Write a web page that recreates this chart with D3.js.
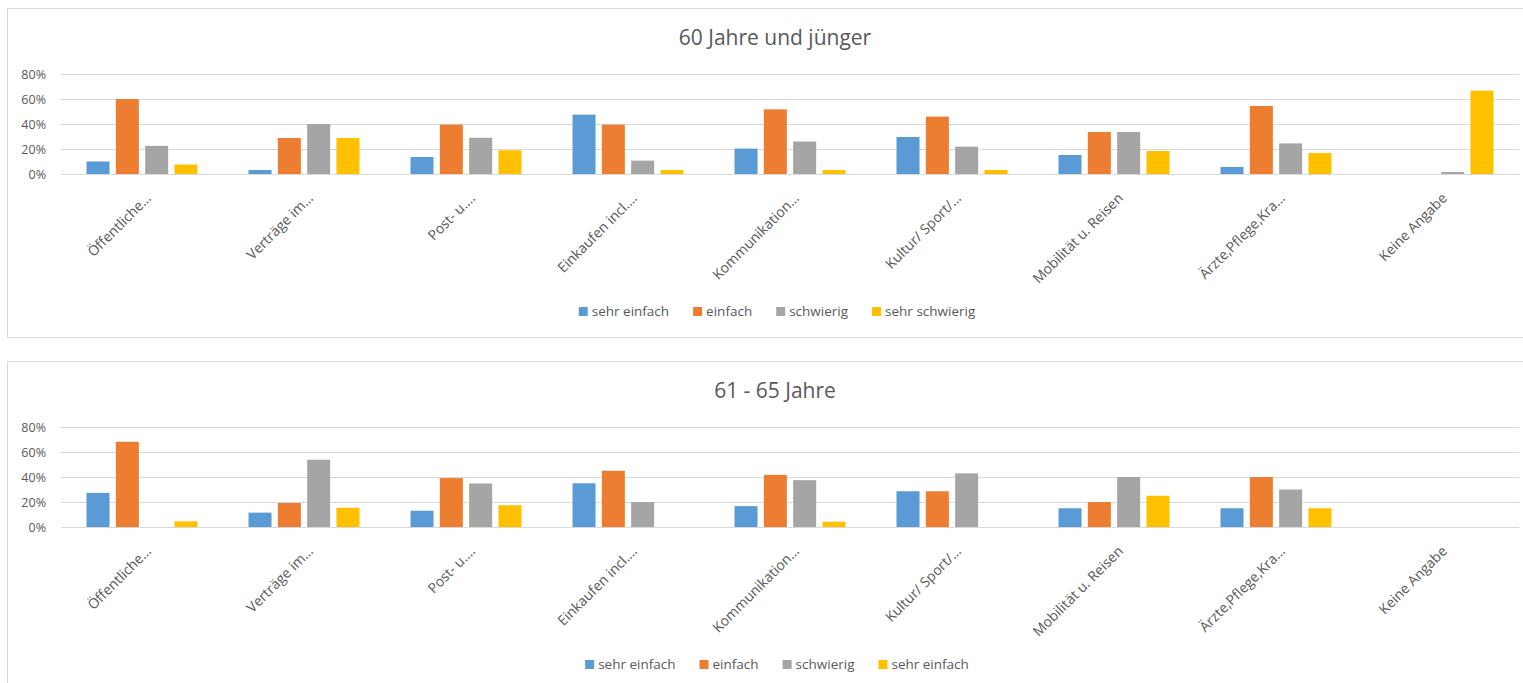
<!DOCTYPE html>
<html>
<head>
<meta charset="utf-8">
<script src="https://cdn.jsdelivr.net/npm/d3@7"></script>
<style>
  body { margin: 0; background: #fff; }
  svg { display: block; font-family: 'Open Sans', sans-serif; }
</style>
</head>
<body>
<svg id="chart" width="1523" height="683"></svg>
<script>
const categories = ['Öffentliche…', 'Verträge im…', 'Post- u.…', 'Einkaufen incl.…', 'Kommunikation…',
  'Kultur/ Sport/…', 'Mobilität u. Reisen', 'Ärzte,Pflege,Kra…', 'Keine Angabe']
const colors = ['#5B9BD5', '#ED7D31', '#A5A5A5', '#FFC000']

// 60 Jahre und jünger
const jungNames = ['sehr einfach', 'einfach', 'schwierig', 'sehr schwierig']
const jungSehrEinfach = [0.10, 0.032, 0.136, 0.475, 0.203, 0.296, 0.152, 0.056, 0]
const jungEinfach = [0.60, 0.288, 0.395, 0.395, 0.517, 0.459, 0.336, 0.544, 0]
const jungSchwierig = [0.225, 0.40, 0.29, 0.107, 0.26, 0.219, 0.336, 0.245, 0.016]
const jungSehrSchwierig = [0.075, 0.288, 0.19, 0.032, 0.032, 0.032, 0.184, 0.168, 0.667]

// 61 - 65 Jahre
const altNames = ['sehr einfach', 'einfach', 'schwierig', 'sehr einfach']
const altSehrEinfach = [0.273, 0.115, 0.13, 0.35, 0.167, 0.286, 0.15, 0.15, 0]
const altEinfach = [0.682, 0.192, 0.391, 0.45, 0.417, 0.286, 0.20, 0.40, 0]
const altSchwierig = [0, 0.538, 0.348, 0.20, 0.375, 0.429, 0.40, 0.30, 0]
const altSehrSchwierig = [0.045, 0.154, 0.174, 0, 0.042, 0, 0.25, 0.15, 0]

const yTicks = [0, 0.2, 0.4, 0.6, 0.8]

const svg = d3.select('#chart')

function drawChart (top, title, names, series) {
  const g = svg.append('g').attr('transform', `translate(0,${top})`)

  g.append('rect')
    .attr('x', 7.5).attr('y', 0.5)
    .attr('width', 1540).attr('height', 329)
    .attr('fill', '#fff').attr('stroke', '#D9D9D9')

  g.append('text')
    .attr('x', 775).attr('y', 37)
    .attr('text-anchor', 'middle')
    .attr('font-size', 21)
    .attr('fill', '#595959')
    .text(title)

  const x = d3.scaleBand().domain(categories).range([61, 1519]).padding(0)
  const xs = d3.scaleBand().domain(d3.range(4)).range([0, x.bandwidth()])
    .paddingInner(0.215).paddingOuter(0.87)
  const y = d3.scaleLinear().domain([0, 0.8]).range([166, 66])

  const grid = g.append('g')
  grid.selectAll('line').data(yTicks).join('line')
    .attr('x1', 61).attr('x2', 1519)
    .attr('y1', d => Math.round(y(d)) + 0.5).attr('y2', d => Math.round(y(d)) + 0.5)
    .attr('stroke', '#D9D9D9')

  const yAxis = g.append('g')
    .attr('transform', 'translate(61,0)')
    .call(d3.axisLeft(y).tickValues(yTicks).tickFormat(d3.format('.0%')).tickSize(0).tickPadding(15))
  yAxis.select('.domain').remove()
  yAxis.selectAll('text').attr('font-size', 12.5).attr('fill', '#595959').attr('font-family', "'Open Sans', sans-serif")

  series.forEach((vals, si) => {
    g.append('g').selectAll('rect').data(vals).join('rect')
      .attr('x', (d, i) => x(categories[i]) + xs(si))
      .attr('width', xs.bandwidth())
      .attr('y', d => y(d))
      .attr('height', d => y(0) - y(d))
      .attr('fill', colors[si])
  })

  // rotated category labels
  g.append('g').selectAll('text').data(categories).join('text')
    .attr('transform', d => `translate(${x(d) + x.bandwidth() / 2 + 10},${y(0) + 25}) rotate(-45)`)
    .attr('text-anchor', 'end')
    .attr('font-size', 14)
    .attr('fill', '#595959')
    .text(d => d)

  // legend, centred under the plot
  const leg = g.append('g')
  const items = leg.selectAll('g').data(names).join('g')
  items.append('rect').attr('width', 9).attr('height', 9).attr('y', -9)
    .attr('fill', (d, i) => colors[i])
  items.append('text').attr('x', 13).attr('y', 0)
    .attr('font-size', 13.5).attr('fill', '#595959').text(d => d)
  let cx = 0
  items.each(function () {
    d3.select(this).attr('transform', `translate(${cx},0)`)
    cx += 13 + d3.select(this).select('text').node().getComputedTextLength() + 24
  })
  cx -= 24
  leg.attr('transform', `translate(${777 - cx / 2},${308})`)
}

drawChart(8, '60 Jahre und jünger', jungNames,
  [jungSehrEinfach, jungEinfach, jungSchwierig, jungSehrSchwierig])
drawChart(361, '61 - 65 Jahre', altNames,
  [altSehrEinfach, altEinfach, altSchwierig, altSehrSchwierig])
</script>
</body>
</html>
